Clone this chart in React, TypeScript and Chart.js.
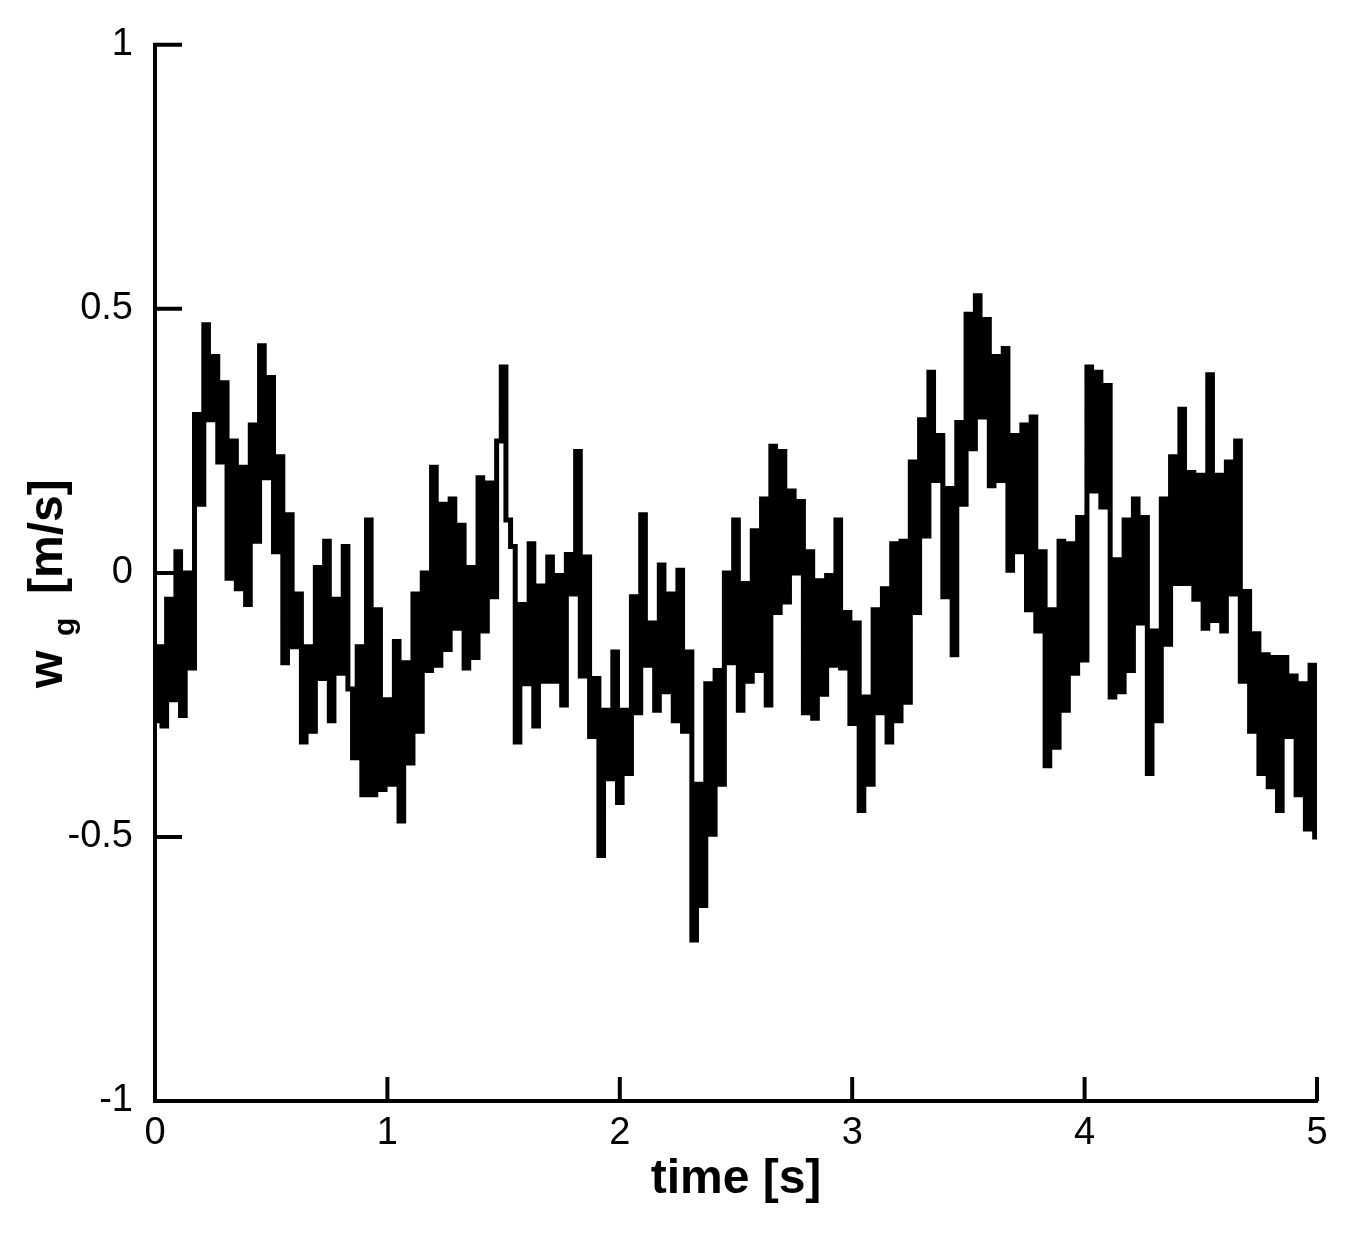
import React, { useEffect, useRef } from "react";
import { Chart, registerables } from "chart.js";

Chart.register(...registerables);

// sampling step of the read-off series [s]
const DT = 0.02;

// vertical gust velocity w_g [m/s] at t = 0, 0.02, ..., 5.00 s
const wgValues: number[] = [
  -0.28, -0.14, -0.29, -0.05, -0.24, 0.04, -0.27, 0.0, -0.18, 0.3,
  0.13, 0.47, 0.29, 0.41, 0.21, 0.36, -0.01, 0.25, -0.03, 0.2,
  -0.06, 0.28, 0.06, 0.43, 0.18, 0.37, 0.04, 0.22, -0.17, 0.11,
  -0.14, -0.04, -0.32, -0.14, -0.3, 0.01, -0.2, 0.06, -0.28, -0.05,
  -0.19, 0.05, -0.22, -0.35, -0.14, -0.42, 0.1, -0.42, -0.07, -0.41,
  -0.24, -0.4, -0.13, -0.47, -0.17, -0.36, -0.04, -0.3, 0.0, -0.185,
  0.2, -0.175, 0.13, -0.145, 0.14, -0.105, 0.09, -0.18, 0.01, -0.16,
  0.18, -0.11, 0.17, -0.045, 0.25, 0.39, 0.1, 0.05, -0.32, -0.06,
  -0.21, 0.055, -0.29, -0.025, -0.205, 0.03, -0.205, -0.005, -0.25, 0.035,
  -0.04, 0.23, -0.195, 0.03, -0.31, -0.2, -0.535, -0.26, -0.39, -0.15,
  -0.435, -0.26, -0.38, -0.045, -0.265, 0.11, -0.175, -0.095, -0.26, 0.015,
  -0.225, -0.04, -0.28, 0.005, -0.3, -0.15, -0.695, -0.4, -0.63, -0.21,
  -0.495, -0.185, -0.4, 0.0, -0.17, 0.1, -0.26, -0.02, -0.205, 0.08,
  -0.185, 0.14, -0.25, 0.24, -0.075, 0.23, -0.055, 0.155, 0.0, 0.135,
  -0.265, 0.04, -0.275, -0.015, -0.23, -0.005, -0.175, 0.1, -0.18, -0.075,
  -0.285, -0.095, -0.45, -0.235, -0.4, -0.07, -0.265, -0.03, -0.32, 0.055,
  -0.28, 0.06, -0.245, 0.21, -0.075, 0.29, 0.07, 0.38, 0.175, 0.26,
  -0.045, 0.16, -0.155, 0.285, 0.13, 0.49, 0.235, 0.525, 0.295, 0.48,
  0.165, 0.41, 0.175, 0.425, 0.005, 0.26, 0.04, 0.28, -0.07, 0.295,
  -0.11, 0.04, -0.365, -0.07, -0.33, 0.06, -0.26, 0.055, -0.19, 0.105,
  -0.165, 0.39, 0.155, 0.38, 0.125, 0.355, -0.235, 0.025, -0.225, 0.1,
  -0.185, 0.14, -0.095, 0.105, -0.38, -0.11, -0.28, 0.14, -0.135, 0.22,
  -0.02, 0.31, -0.02, 0.19, -0.05, 0.185, -0.105, 0.375, -0.09, 0.185,
  -0.11, 0.21, -0.04, 0.25, -0.205, -0.035, -0.3, -0.115, -0.38, -0.155,
  -0.405, -0.16, -0.45, -0.16, -0.31, -0.195, -0.42, -0.21, -0.485, -0.175,
  -0.5,
];

// time axis [s]
const timeValues: number[] = wgValues.map((_, i) => Math.round(i * DT * 100) / 100);

const xTickValues: number[] = [0, 1, 2, 3, 4, 5];
const yTickValues: number[] = [-1, -0.5, 0, 0.5, 1];

const xTitle = "time [s]";
const yTitleMain = "w";
const yTitleSub = "g";
const yTitleUnit = "[m/s]";

const FONT = "'Liberation Sans', Arial, Helvetica, sans-serif";

export default function App() {
  const ref = useRef<HTMLCanvasElement | null>(null);

  useEffect(() => {
    const canvas = ref.current;
    if (!canvas) return;

    const decorations = {
      id: "decorations",
      afterDatasetsDraw(chart: any) {
        const { ctx, chartArea } = chart;
        const xs = chart.scales.x;
        const ys = chart.scales.y;
        ctx.save();
        // inward tick marks
        ctx.strokeStyle = "#000";
        ctx.lineWidth = 4;
        ctx.lineCap = "butt";
        ctx.beginPath();
        xTickValues.forEach((v) => {
          const px = xs.getPixelForValue(v);
          ctx.moveTo(px, chartArea.bottom);
          ctx.lineTo(px, chartArea.bottom - 24);
        });
        yTickValues.forEach((v) => {
          const py = ys.getPixelForValue(v);
          ctx.moveTo(chartArea.left - 2, py);
          ctx.lineTo(chartArea.left + 27, py);
        });
        ctx.stroke();

        // x title
        ctx.fillStyle = "#000";
        ctx.font = `bold 48px ${FONT}`;
        ctx.textAlign = "center";
        ctx.textBaseline = "alphabetic";
        ctx.fillText(xTitle, (chartArea.left + chartArea.right) / 2, 1193);

        // y title (rotated, with subscript)
        ctx.save();
        ctx.translate(62, 688);
        ctx.rotate(-Math.PI / 2);
        ctx.textAlign = "left";
        ctx.font = `bold 48px ${FONT}`;
        ctx.fillText(yTitleMain, 0, 0);
        ctx.font = `bold 30px ${FONT}`;
        ctx.fillText(yTitleSub, 52, 12);
        ctx.font = `bold 48px ${FONT}`;
        ctx.fillText(yTitleUnit, 94, 0);
        ctx.restore();

        ctx.restore();
      },
    };

    const chart = new Chart(canvas, {
      type: "line",
      data: {
        datasets: [
          {
            data: timeValues.map((t, i) => ({ x: t, y: wgValues[i] })),
            borderColor: "#000",
            borderWidth: 5,
            borderJoinStyle: "miter",
            borderCapStyle: "butt",
            pointRadius: 0,
            fill: false,
            tension: 0,
            stepped: "middle",
          },
        ],
      },
      options: {
        animation: false,
        responsive: false,
        devicePixelRatio: 1,
        layout: { padding: { left: 0, top: 41, right: 36, bottom: 0 } },
        plugins: {
          legend: { display: false },
          tooltip: { enabled: false },
          title: { display: false },
        },
        scales: {
          x: {
            type: "linear",
            min: 0,
            max: 5,
            afterFit: (s: any) => {
              s.height = 132;
            },
            grid: { display: false, drawTicks: false },
            border: { display: true, width: 4, color: "#000" },
            ticks: {
              stepSize: 1,
              color: "#000",
              font: { family: FONT, size: 38 },
              padding: 10,
              maxRotation: 0,
              autoSkip: false,
              callback: (v: any) => String(v),
            },
          },
          y: {
            type: "linear",
            min: -1,
            max: 1,
            afterFit: (s: any) => {
              s.width = 155;
            },
            grid: { display: false, drawTicks: false },
            border: { display: true, width: 4, color: "#000" },
            ticks: {
              stepSize: 0.5,
              color: "#000",
              font: { family: FONT, size: 38 },
              padding: 22,
              autoSkip: false,
              callback: (v: any) => String(v),
            },
          },
        },
      },
      plugins: [decorations],
    });

    return () => chart.destroy();
  }, []);

  return (
    <canvas
      ref={ref}
      width={1353}
      height={1233}
      style={{ position: "absolute", left: 0, top: 0, width: 1353, height: 1233 }}
    />
  );
}
